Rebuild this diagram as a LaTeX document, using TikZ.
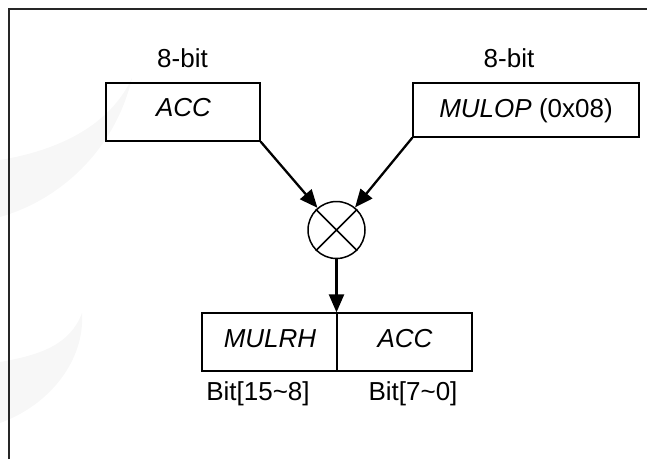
\documentclass[tikz,border=0pt]{standalone}
\usepackage{fontspec}
\setmainfont{Liberation Sans}
\usetikzlibrary{arrows.meta}
\begin{document}
\begin{tikzpicture}[x=1pt,y=-1pt,
  every node/.style={font=\fontsize{26}{30}\selectfont, inner sep=0pt},
  txt/.style={anchor=base},
  regbox/.style={draw=black, line width=1.3pt, minimum height=58pt, anchor=center},
  flow/.style={line width=2.3pt, -{Triangle[length=18pt,width=15pt]}},
  frameline/.style={draw=black!85, line width=1.8pt},
  swoosh/.style={fill=black!3, draw=none}]
\useasboundingbox (0,0) rectangle (647,459);
% watermark swooshes
\path[swoosh] (0,217) .. controls (60,200) and (115,150) .. (132,78)
  .. controls (110,125) and (60,150) .. (0,160) -- cycle;
\path[swoosh] (0,423) .. controls (50,405) and (85,360) .. (82,313)
  .. controls (70,345) and (40,355) .. (0,362) -- cycle;
% frame
\draw[frameline] (9,459) -- (9,9) -- (647,9);
% boxes
\node[regbox, minimum width=154pt] (acc) at (183,112) {};
\node[txt] (accT) at (183.5,116) {\itshape ACC};
\node[regbox, minimum width=226pt, minimum height=54pt] (mulop) at (526,110) {};
\node[txt] (mulopT) at (526,117) {\itshape MULOP\upshape\ (0x08)};
\node[txt] (bitl) at (182.5,67) {8-bit};
\node[txt] (bitr) at (509,67) {8-bit};
% multiplier
\node[circle, draw, line width=1.5pt, minimum size=57pt] (mult) at (336.5,230) {};
\draw[line width=1.5pt] (mult.north west) -- (mult.south east) (mult.north east) -- (mult.south west);
% result
\node[regbox, minimum width=135pt] (mulrh) at (269.5,342) {};
\node[txt] (mulrhT) at (270,347) {\itshape MULRH};
\node[regbox, minimum width=135pt] (accr) at (404.5,342) {};
\node[txt] (accrT) at (405,347) {\itshape ACC};
\node[txt] (b1) at (258,400) {Bit[15\textasciitilde 8]};
\node[txt] (b2) at (413,400) {Bit[7\textasciitilde 0]};
% arrows
\draw[flow] (acc.south east) -- (mult);
\draw[flow] (mulop.south west) -- (mult);
\draw[flow] (mult.south) -- (mult.south |- mulrh.north);
\end{tikzpicture}
\end{document}
